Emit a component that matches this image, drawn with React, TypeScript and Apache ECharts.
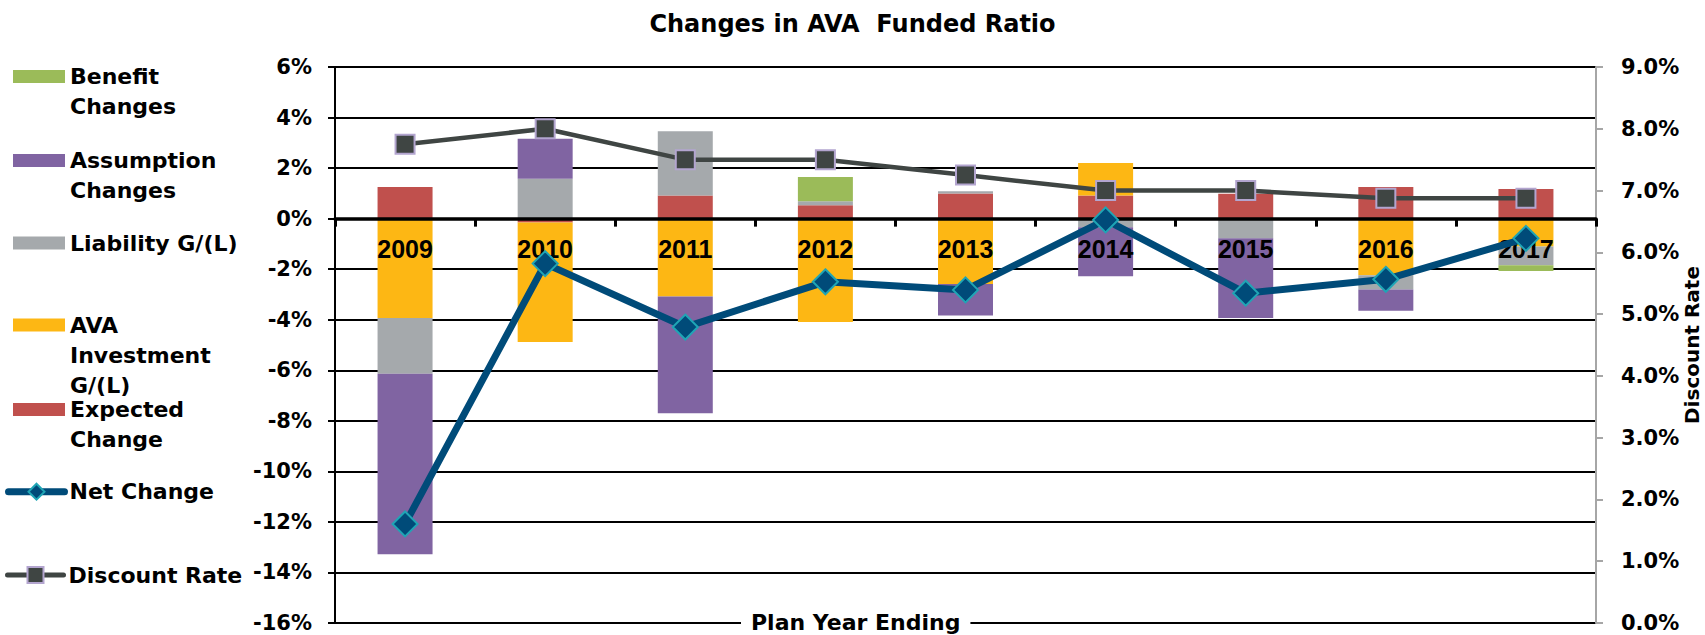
import React, { useEffect, useRef } from 'react';
import * as echarts from 'echarts';

// ---- data ----
const years = ['2009', '2010', '2011', '2012', '2013', '2014', '2015', '2016', '2017'];
const expectedChange = [1.25, -0.15, 0.92, 0.53, 0.99, 0.92, 0.98, 1.25, 1.17];
const avaInvestment = [-3.93, -4.73, -3.08, -4.09, -2.59, 1.28, 0, -2.24, -1.1];
const liabilityGL = [-2.21, 1.58, 2.54, 0.16, 0.09, -0.34, -0.78, -0.56, -0.74];
const assumptionChanges = [-7.14, 1.58, -4.62, 0, -1.24, -1.94, -3.15, -0.84, 0];
const benefitChanges = [0, 0, 0, 0.96, 0, 0, 0, 0, -0.23];
const netChange = [-12.08, -1.78, -4.29, -2.5, -2.82, -0.05, -2.95, -2.4, -0.78];
const discountRate = [7.75, 8.0, 7.5, 7.5, 7.25, 7.0, 7.0, 6.875, 6.875];

// ---- axis ranges ----
const LEFT_MIN = -16;
const LEFT_MAX = 6;
const LEFT_STEP = 2;
const RIGHT_MIN = 0;
const RIGHT_MAX = 9;
const RIGHT_STEP = 1;

// ---- layout / styling ----
const GRID_TOP = 67;
const GRID_BOTTOM = 12;
const CHART_H = 635;
const GRID_H = CHART_H - GRID_TOP - GRID_BOTTOM;
const ZERO_OFFSET = -(GRID_H * (0 - LEFT_MIN)) / (LEFT_MAX - LEFT_MIN);

const WIDE = '"DejaVu Sans", sans-serif';
const CAT = '"Liberation Sans", Arial, sans-serif';
const C_BENEFIT = '#9BBB59';
const C_ASSUMPTION = '#8064A2';
const C_LIABILITY = '#A5A9AC';
const C_AVA = '#FDB714';
const C_EXPECTED = '#C0504D';
const C_NET = '#004B79';
const C_DISC = '#3F4543';

const LH = 30;

type LegendEntry = {
  name: string;
  lines: string[];
  center: number;
  kind: 'bar' | 'line';
  lineWidth?: number;
};
const legendEntries: LegendEntry[] = [
  { name: 'Benefit Changes', lines: ['Benefit', 'Changes'], center: 76.5, kind: 'bar' },
  { name: 'Assumption Changes', lines: ['Assumption', 'Changes'], center: 160.5, kind: 'bar' },
  { name: 'Liability G/(L)', lines: ['Liability G/(L)'], center: 243, kind: 'bar' },
  { name: 'AVA Investment G/(L)', lines: ['AVA', 'Investment', 'G/(L)'], center: 325, kind: 'bar' },
  { name: 'Expected Change', lines: ['Expected', 'Change'], center: 409.5, kind: 'bar' },
  { name: 'Net Change', lines: ['Net Change'], center: 491.7, kind: 'line', lineWidth: 7 },
  { name: 'Discount Rate', lines: ['Discount Rate'], center: 575, kind: 'line', lineWidth: 5 },
];

function buildLegends() {
  return legendEntries.map((e) => {
    const n = e.lines.length;
    // pad with blank lines above so the icon lines up with the first text line
    const padded = [...Array(n - 1).fill(' '), ...e.lines].join('\n');
    const h = (2 * n - 1) * LH;
    const isBar = e.kind === 'bar';
    return {
      data: [e.name],
      left: isBar ? 13 : 5,
      top: e.center - h / 2,
      padding: 0,
      orient: 'vertical',
      selectedMode: false,
      ...(isBar
        ? { icon: 'rect', itemWidth: 52, itemHeight: 13 }
        : { itemWidth: 56, itemHeight: 20, lineStyle: { width: e.lineWidth, cap: 'round' } }),
      formatter: () => padded,
      textStyle: {
        fontFamily: WIDE,
        fontWeight: 'bold',
        fontSize: 22,
        lineHeight: LH,
        color: '#000',
      },
    };
  });
}

function barSeries(name: string, data: number[], color: string) {
  return {
    name,
    type: 'bar',
    stack: 'total',
    data,
    barWidth: 55,
    yAxisIndex: 0,
    z: 2,
    itemStyle: { color },
  };
}

export default function App() {
  const ref = useRef<HTMLDivElement>(null);

  useEffect(() => {
    if (!ref.current) return;
    const chart = echarts.init(ref.current, null, { renderer: 'svg' });
    const option: any = {
      animation: false,
      backgroundColor: '#fff',
      title: [
        {
          text: 'Changes in AVA  Funded Ratio',
          left: 'center',
          top: 12,
          padding: 0,
          textStyle: { fontFamily: WIDE, fontWeight: 'bold', fontSize: 24, color: '#000' },
        },
        {
          text: 'Plan Year Ending',
          left: 741,
          top: 607,
          padding: [4, 10],
          backgroundColor: '#fff',
          textStyle: { fontFamily: WIDE, fontWeight: 'bold', fontSize: 22, color: '#000' },
        },
      ],
      legend: buildLegends(),
      grid: {
        left: 335,
        right: 109,
        top: GRID_TOP,
        bottom: GRID_BOTTOM,
        containLabel: false,
        outerBoundsMode: 'none',
      },
      xAxis: {
        type: 'category',
        data: years,
        z: 3,
        position: 'bottom',
        offset: ZERO_OFFSET,
        axisLine: { show: true, onZero: false, lineStyle: { color: '#000', width: 3.5 } },
        axisTick: { show: true, length: 8, lineStyle: { color: '#000', width: 3 } },
        axisLabel: { margin: 18, fontFamily: CAT, fontWeight: 'bold', fontSize: 25, color: '#000' },
        splitLine: { show: false },
      },
      yAxis: [
        {
          type: 'value',
          min: LEFT_MIN,
          max: LEFT_MAX,
          interval: LEFT_STEP,
          position: 'left',
          axisLine: { show: true, lineStyle: { color: '#000', width: 2 } },
          axisTick: { show: true, length: 7, lineStyle: { color: '#000', width: 2 } },
          axisLabel: {
            formatter: '{value}%',
            margin: 23,
            fontFamily: WIDE,
            fontWeight: 'bold',
            fontSize: 21,
            color: '#000',
          },
          splitLine: { show: true, lineStyle: { color: '#000', width: 2 } },
        },
        {
          type: 'value',
          min: RIGHT_MIN,
          max: RIGHT_MAX,
          interval: RIGHT_STEP,
          position: 'right',
          name: 'Discount Rate',
          nameLocation: 'middle',
          nameRotate: 90,
          nameGap: 86,
          nameMoveOverlap: false,
          nameTextStyle: { fontFamily: WIDE, fontWeight: 'bold', fontSize: 20, color: '#000' },
          axisLine: { show: true, lineStyle: { color: '#A6A6A6', width: 2 } },
          axisTick: { show: true, length: 7, lineStyle: { color: '#A6A6A6', width: 2 } },
          axisLabel: {
            formatter: (v: number) => v.toFixed(1) + '%',
            margin: 25,
            fontFamily: WIDE,
            fontWeight: 'bold',
            fontSize: 21,
            color: '#000',
          },
          splitLine: { show: false },
        },
      ],
      series: [
        barSeries('Expected Change', expectedChange, C_EXPECTED),
        barSeries('AVA Investment G/(L)', avaInvestment, C_AVA),
        barSeries('Liability G/(L)', liabilityGL, C_LIABILITY),
        barSeries('Assumption Changes', assumptionChanges, C_ASSUMPTION),
        barSeries('Benefit Changes', benefitChanges, C_BENEFIT),
        {
          name: 'Net Change',
          type: 'line',
          data: netChange,
          yAxisIndex: 0,
          z: 5,
          symbol: 'diamond',
          symbolSize: 25,
          lineStyle: { color: C_NET, width: 7, cap: 'round' },
          itemStyle: { color: C_NET, borderColor: '#1FA5B5', borderWidth: 2 },
        },
        {
          name: 'Discount Rate',
          type: 'line',
          data: discountRate,
          yAxisIndex: 1,
          z: 5,
          symbol: 'rect',
          symbolSize: 19,
          lineStyle: { color: C_DISC, width: 4.5, cap: 'round' },
          itemStyle: { color: C_DISC, borderColor: '#B3A5CF', borderWidth: 2 },
        },
      ],
    };
    chart.setOption(option);
    return () => chart.dispose();
  }, []);

  return (
    <div
      ref={ref}
      style={{ position: 'absolute', left: 0, top: 0, width: 1705, height: CHART_H, background: '#fff' }}
    />
  );
}
